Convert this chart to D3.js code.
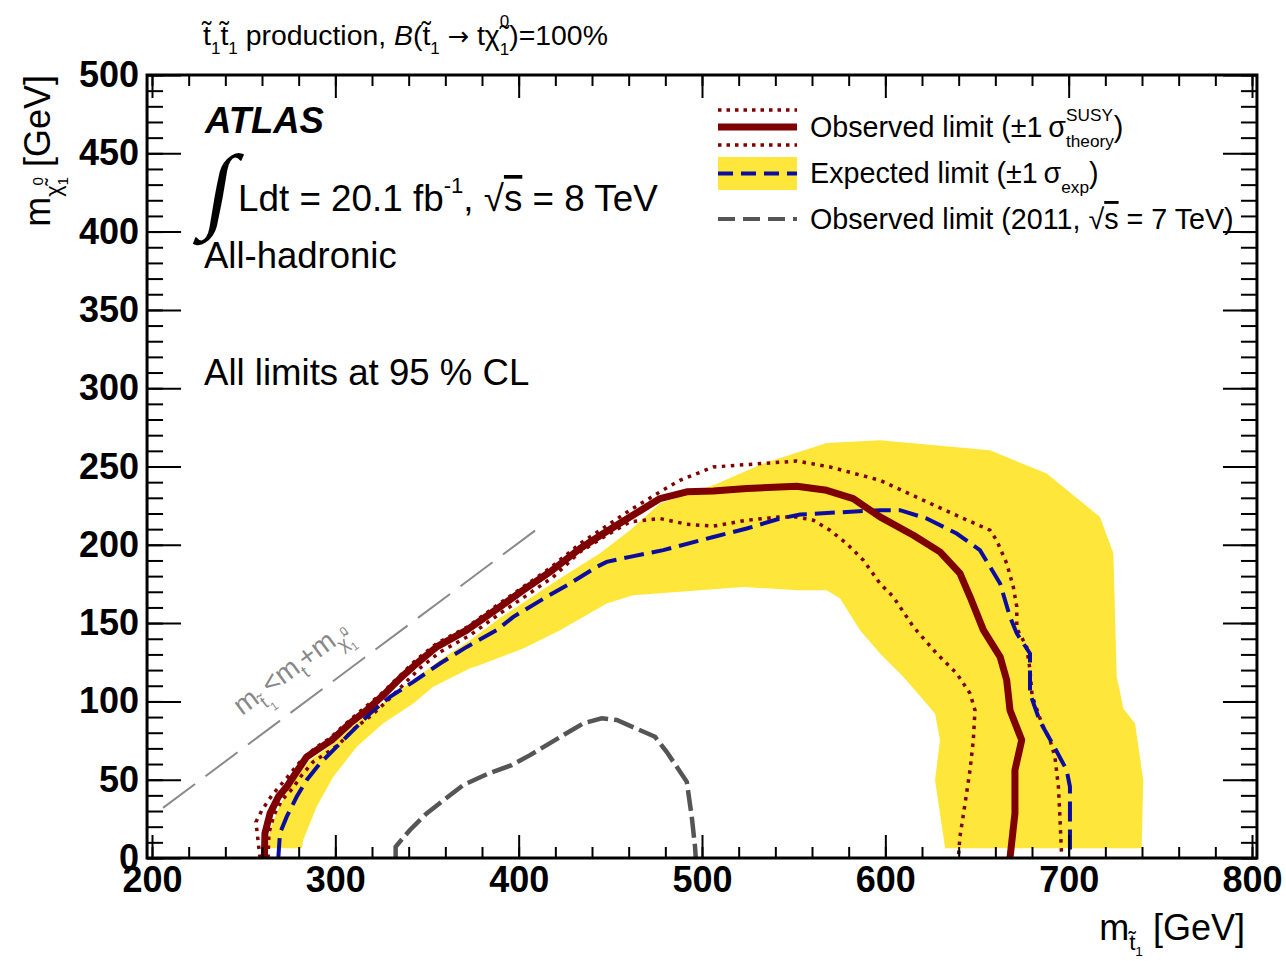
<!DOCTYPE html>
<html>
<head>
<meta charset="utf-8">
<script src="https://cdn.jsdelivr.net/npm/d3@7"></script>
<style>
  body { margin: 0; background: #fff; }
  text { white-space: pre; }
</style>
</head>
<body>
<svg id="chart" width="1286" height="961"></svg>
<script>
// ---- data: (m_stop, m_LSP) contour points in GeV ----
const xTicks = [200, 300, 400, 500, 600, 700, 800];
const yTicks = [0, 50, 100, 150, 200, 250, 300, 350, 400, 450, 500];

const observed = [
  [261.3,0],[261.6,15.8],[264.4,28.5],[268.9,39.1],[273.5,45.5],[278.9,55.1],[284.4,64.6],
  [289.8,68.9],[298.0,75.3],[308.0,86.0],[317.1,94.4],[326.2,104.0],[335.3,114.7],[344.4,124.2],
  [355.3,134.8],[371.7,145.5],[389.8,160.4],[402.5,171.0],[417.1,182.7],[433.5,197.6],[446.2,207.2],
  [460.7,217.8],[477.1,229.5],[491.7,233.8],[506.2,234.4],[524.4,235.9],[551.7,237.4],[568.0,234.8],
  [582.5,229.5],[597.1,217.8],[615.3,206.1],[629.8,195.5],[640.7,181.7],[646.2,166.8],[653.5,145.5],
  [662.6,128.5],[666.2,113.6],[668.0,94.4],[674.4,75.3],[670.7,56.2],[670.7,28.5],[668.0,0]
];

const observedUp = [
  [258.9,0],[257.8,11.5],[256.7,23.0],[260.0,30.6],[265.5,40.2],[272.5,49.8],[280.7,61.3],
  [288.9,70.2],[297.1,76.6],[308.0,88.1],[326.0,105.9],[344.0,126.4],[355.5,137.2],[371.8,147.4],
  [389.8,162.7],[417.1,185.1],[433.5,200.8],[460.7,222.1],[477.1,233.8],[488.0,241.2],[506.2,249.7],
  [524.4,251.2],[551.7,253.5],[569.8,249.7],[597.1,241.2],[622.6,227.4],[640.7,217.8],[657.1,209.3],
  [660.7,202.9],[666.2,188.1],[669.8,173.1],[671.7,160.4],[671.7,146.6],[677.1,134.8],[678.9,120.0],
  [680.0,104.0],[685.3,86.0],[689.8,75.3],[692.5,64.6],[694.4,45.5],[695.3,24.3],[696.2,0]
];

const observedDown = [
  [263.3,0],[263.8,16.0],[266.5,27.4],[270.9,37.0],[276.4,44.0],[281.8,53.0],[287.8,61.3],
  [294.4,66.4],[301.5,72.1],[310.7,83.0],[320.0,91.3],[328.7,100.8],[338.0,111.7],[346.2,121.3],
  [357.1,131.5],[373.5,142.3],[390.9,157.0],[404.5,167.8],[418.7,179.3],[433.5,195.5],[448.0,206.1],
  [460.7,214.6],[477.1,216.8],[491.7,213.1],[506.2,211.9],[524.4,215.7],[542.6,217.8],[551.7,217.8],
  [560.7,215.7],[569.8,209.3],[578.9,200.8],[588.0,190.2],[597.1,175.3],[604.3,166.8],[615.3,147.6],
  [628.0,130.6],[638.9,117.9],[646.2,105.1],[648.9,94.4],[648.0,75.3],[646.2,56.2],[643.5,34.9],
  [640.7,13.6],[639.8,0]
];

const expected = [
  [268.9,0],[269.8,15.8],[273.5,26.4],[278.9,39.1],[284.4,49.8],[291.6,60.4],[298.9,68.9],
  [308.0,79.6],[318.9,92.3],[329.8,102.9],[342.5,112.5],[357.1,124.2],[371.7,134.8],[388.0,145.5],
  [397.1,154.0],[415.3,166.8],[428.0,175.3],[442.6,185.9],[448.0,189.1],[460.7,192.3],[478.9,196.6],
  [506.2,205.0],[524.4,210.4],[542.6,216.8],[553.5,219.3],[578.9,221.0],[597.1,222.1],[608.0,222.1],
  [622.6,216.8],[638.9,207.2],[651.6,196.6],[662.6,175.3],[668.0,154.0],[671.7,143.4],[678.9,130.6],
  [678.9,105.1],[684.4,87.0],[691.6,72.1],[698.9,56.2],[700.7,45.5],[700.7,0]
];

// ±1 sigma expected band: outer edge followed by inner edge (closed polygon)
const bandOuter = [
  [263.3,6.2],[264.4,17.9],[269.8,33.8],[276.9,48.5],[286.2,62.5],[297.1,71.5],[308.0,83.0],
  [324.4,97.6],[340.7,111.7],[357.1,126.4],[373.5,139.1],[389.8,153.2],[406.2,165.9],[422.6,178.7],
  [444.4,194.6],[460.7,209.3],[477.1,226.4],[506.2,238.0],[533.4,251.9],[568.0,265.0],[597.1,266.8],
  [657.1,260.4],[688.0,245.5],[717.1,217.8],[724.4,194.4],[726.2,115.7],[728.0,106.1],[729.8,95.5],
  [736.2,86.0],[740.7,49.8],[739.8,6.2]
];
const bandInner = [
  [632.6,6.2],[627.1,49.8],[629.8,75.3],[627.1,92.3],[609.8,115.7],[597.1,130.6],[586.2,145.5],
  [575.3,165.7],[568.0,171.0],[551.7,171.0],[522.5,173.1],[462.5,167.8],[448.0,162.5],[422.6,145.5],
  [402.5,133.8],[378.9,123.2],[373.5,121.1],[353.4,109.3],[342.5,98.7],[326.2,86.0],[311.7,71.0],
  [298.9,51.9],[289.8,32.7],[282.5,11.5],[281.7,6.2]
];

const observed2011 = [
  [332.9,0],[332.9,7.2],[340.7,17.9],[349.8,28.5],[369.8,46.6],[384.4,54.4],[396.2,59.3],
  [406.2,65.7],[424.4,78.5],[435.3,86.0],[445.3,89.2],[453.5,88.1],[474.4,77.4],[480.7,67.8],
  [491.7,48.7],[494.4,26.4],[496.2,7.2],[496.6,0]
];

// kinematic boundary guide line
const kinLine = [[206, 32], [410, 210]];

// ---- layout ----
const SANS = "'Liberation Sans', Arial, Helvetica, sans-serif";
const SERIF = "'Liberation Serif', 'Times New Roman', serif";
const DEJAVU = "'DejaVu Sans', sans-serif";
const C_OBS = "#7f0000", C_EXP = "#0c0ca0", C_BAND = "#fee73a", C_OLD = "#555555";

const svg = d3.select("#chart");
const x = d3.scaleLinear().domain([200, 800]).range([152, 1252]);
const y = d3.scaleLinear().domain([0, 500]).range([858, 75]);
const fL = x(197.3), fR = x(802.7), fT = y(500), fB = y(0);

svg.append("defs").append("clipPath").attr("id", "frame")
  .append("rect").attr("x", fL).attr("y", fT).attr("width", fR - fL).attr("height", fB - fT);

// Rich text: sequential tspans with sub/superscripts, measured in place
function rich(parent, o, segs) {
  const g = parent.append("g")
    .attr("transform", `translate(${o.x},${o.y}) rotate(${o.rotate || 0})${o.skew ? ` skewX(${o.skew})` : ""}`);
  const t = g.append("text")
    .attr("xml:space", "preserve")
    .attr("font-family", o.family || SANS)
    .attr("fill", o.fill || "#000")
    .attr("font-size", o.size);
  if (o.weight) t.attr("font-weight", o.weight);
  if (o.style) t.attr("font-style", o.style);
  let cx = 0, prev = null;
  segs.forEach(s => {
    if (typeof s === "string") s = { t: s };
    const ts = t.append("tspan")
      .attr("font-size", o.size * (s.scale || 1))
      .attr("y", (s.dy || 0) * o.size)
      .text(s.t);
    if (s.style) ts.attr("font-style", s.style);
    if (s.family) ts.attr("font-family", s.family);
    if (s.deco) ts.attr("text-decoration", s.deco);
    const stacked = s.stack && prev;
    const x0 = stacked ? prev.x : cx + (s.dx || 0) * o.size;
    ts.attr("x", x0);
    const w = ts.node().getComputedTextLength();
    if (stacked) cx = Math.max(prev.x + prev.w, x0 + w);
    else { cx = x0 + w; prev = { x: x0, w }; }
  });
  if (o.anchor === "end") t.attr("transform", `translate(${-cx},0)`);
  return g;
}

// ---- plotted contours ----
const plot = svg.append("g").attr("clip-path", "url(#frame)");
const line = d3.line().x(d => x(d[0])).y(d => y(d[1]));

plot.append("path")
  .attr("d", line(bandOuter.concat(bandInner)) + "Z")
  .attr("fill", C_BAND).attr("stroke", "none");

plot.append("path").attr("d", line(kinLine))
  .attr("fill", "none").attr("stroke", "#8a8a8a").attr("stroke-width", 2)
  .attr("stroke-dasharray", "40,13");

[observedUp, observedDown].forEach(s => {
  plot.append("path").attr("d", line(s))
    .attr("fill", "none").attr("stroke", C_OBS).attr("stroke-width", 3.5)
    .attr("stroke-dasharray", "3.5,5.5");
});

plot.append("path").attr("d", line(expected))
  .attr("fill", "none").attr("stroke", C_EXP).attr("stroke-width", 4)
  .attr("stroke-dasharray", "20,8");

plot.append("path").attr("d", line(observed2011))
  .attr("fill", "none").attr("stroke", C_OLD).attr("stroke-width", 4.5)
  .attr("stroke-dasharray", "21,6");

plot.append("path").attr("d", line(observed))
  .attr("fill", "none").attr("stroke", C_OBS).attr("stroke-width", 7)
  .attr("stroke-linejoin", "round");

// label along the kinematic boundary
const ang = Math.atan2(y(kinLine[1][1]) - y(kinLine[0][1]), x(kinLine[1][0]) - x(kinLine[0][0])) * 180 / Math.PI;
rich(svg, { x: 242, y: 716, size: 28, fill: "#888", rotate: ang }, [
  "m", { t: "t\u0303", scale: .65, dy: .3 }, { t: "1", scale: .42, dy: .55 },
  "<m", { t: "t", scale: .65, dy: .3 },
  "+m", { t: "\u03c7\u0303", scale: .65, dy: .3 }, { t: "0", scale: .42, dy: -.12 },
  { t: "1", scale: .42, dy: .55, stack: true }
]);

// ---- axes (ticks pointing inwards on all four sides) ----
function styleAxis(g, showText) {
  g.select(".domain").remove();
  g.selectAll(".tick line").attr("stroke", "#000").attr("stroke-width", 2);
  g.selectAll(".tick text")
    .attr("font-family", SANS).attr("font-weight", "bold")
    .attr("font-size", 36).attr("fill", "#000");
  if (!showText) g.selectAll(".tick text").remove();
}
const xMinor = d3.range(200, 801, 20), yMinor = d3.range(0, 501, 10);

svg.append("g").attr("transform", `translate(0,${fB})`)
  .call(d3.axisBottom(x).tickValues(xMinor).tickSize(-11).tickFormat(""))
  .call(g => styleAxis(g, false));
svg.append("g").attr("transform", `translate(0,${fB})`)
  .call(d3.axisBottom(x).tickValues(xTicks).tickSizeInner(-23).tickSizeOuter(0).tickPadding(8).tickFormat(d3.format("d")))
  .call(g => styleAxis(g, true));
svg.append("g").attr("transform", `translate(0,${fT})`)
  .call(d3.axisTop(x).tickValues(xMinor).tickSize(-11).tickFormat(""))
  .call(g => styleAxis(g, false));
svg.append("g").attr("transform", `translate(0,${fT})`)
  .call(d3.axisTop(x).tickValues(xTicks).tickSize(-23).tickFormat(""))
  .call(g => styleAxis(g, false));

svg.append("g").attr("transform", `translate(${fL},0)`)
  .call(d3.axisLeft(y).tickValues(yMinor).tickSize(-16).tickFormat(""))
  .call(g => styleAxis(g, false));
svg.append("g").attr("transform", `translate(${fL},0)`)
  .call(d3.axisLeft(y).tickValues(yTicks).tickSizeInner(-34).tickSizeOuter(0).tickPadding(8).tickFormat(d3.format("d")))
  .call(g => styleAxis(g, true));
svg.append("g").attr("transform", `translate(${fR},0)`)
  .call(d3.axisRight(y).tickValues(yMinor).tickSize(-16).tickFormat(""))
  .call(g => styleAxis(g, false));
svg.append("g").attr("transform", `translate(${fR},0)`)
  .call(d3.axisRight(y).tickValues(yTicks).tickSize(-34).tickFormat(""))
  .call(g => styleAxis(g, false));

svg.append("rect").attr("x", fL).attr("y", fT).attr("width", fR - fL).attr("height", fB - fT)
  .attr("fill", "none").attr("stroke", "#000").attr("stroke-width", 3);

// axis titles
rich(svg, { x: 1245, y: 940, size: 36, anchor: "end" }, [
  "m", { t: "t\u0303", scale: .62, dy: .28 }, { t: "1", scale: .38, dy: .44 }, " [GeV]"
]);
rich(svg, { x: 50, y: 75, size: 36, anchor: "end", rotate: -90 }, [
  "m", { t: "\u03c7\u0303", scale: .6, dy: .3 }, { t: "0", scale: .42, dy: -.2 },
  { t: "1", scale: .42, dy: .5, stack: true }, " [GeV]"
]);

// ---- header and labels ----
rich(svg, { x: 203, y: 45, size: 28.4 }, [
  "t\u0303", { t: "1", scale: .6, dy: .3 }, "t\u0303", { t: "1", scale: .6, dy: .3 },
  " production, ", { t: "B", style: "italic" }, "(t\u0303", { t: "1", scale: .6, dy: .3 },
  " ", { t: "\u2192", family: DEJAVU, scale: .9 }, " t", "\u03c7\u0303",
  { t: "0", scale: .6, dy: -.62 }, { t: "1", scale: .6, dy: .35, stack: true },
  ")=100%"
]);

rich(svg, { x: 205, y: 133, size: 36.5, weight: "bold", style: "italic" }, ["ATLAS"]);
rich(svg, { x: 202, y: 220, size: 94, family: SERIF, skew: -10 }, ["\u222b"]);
rich(svg, { x: 238, y: 211, size: 36.8 }, [
  "Ldt = 20.1 fb", { t: "-1", scale: .6, dy: -.5 }, ", ", "\u221a", { t: "s", deco: "overline" }, " = 8 TeV"
]);
rich(svg, { x: 204, y: 268, size: 36.5 }, ["All-hadronic"]);
rich(svg, { x: 204, y: 385, size: 36.6 }, ["All limits at 95 % CL"]);

// ---- legend ----
const leg = svg.append("g");
const lx0 = 718, lx1 = 797;
[110, 145].forEach(yy => leg.append("line").attr("x1", lx0).attr("x2", lx1).attr("y1", yy).attr("y2", yy)
  .attr("stroke", C_OBS).attr("stroke-width", 3.5).attr("stroke-dasharray", "3.5,5"));
leg.append("line").attr("x1", lx0).attr("x2", lx1).attr("y1", 127).attr("y2", 127)
  .attr("stroke", C_OBS).attr("stroke-width", 7);
leg.append("rect").attr("x", lx0).attr("y", 157).attr("width", lx1 - lx0).attr("height", 33).attr("fill", C_BAND);
leg.append("line").attr("x1", lx0).attr("x2", lx1).attr("y1", 173.5).attr("y2", 173.5)
  .attr("stroke", C_EXP).attr("stroke-width", 4).attr("stroke-dasharray", "15,8");
leg.append("line").attr("x1", lx0).attr("x2", lx1).attr("y1", 219).attr("y2", 219)
  .attr("stroke", C_OLD).attr("stroke-width", 4).attr("stroke-dasharray", "17,8");

rich(leg, { x: 810, y: 137, size: 28.7 }, [
  "Observed limit (\u00b11\u2009\u03c3", { t: "SUSY", scale: .6, dy: -.55 },
  { t: "theory", scale: .6, dy: .35, stack: true }, ")"
]);
rich(leg, { x: 810, y: 183, size: 28.7 }, [
  "Expected limit (\u00b11\u2009\u03c3", { t: "exp", scale: .6, dy: .35 }, ")"
]);
rich(leg, { x: 810, y: 229, size: 28.7 }, [
  "Observed limit (2011, ", "\u221a", { t: "s", deco: "overline" }, " = 7 TeV)"
]);
</script>
</body>
</html>
